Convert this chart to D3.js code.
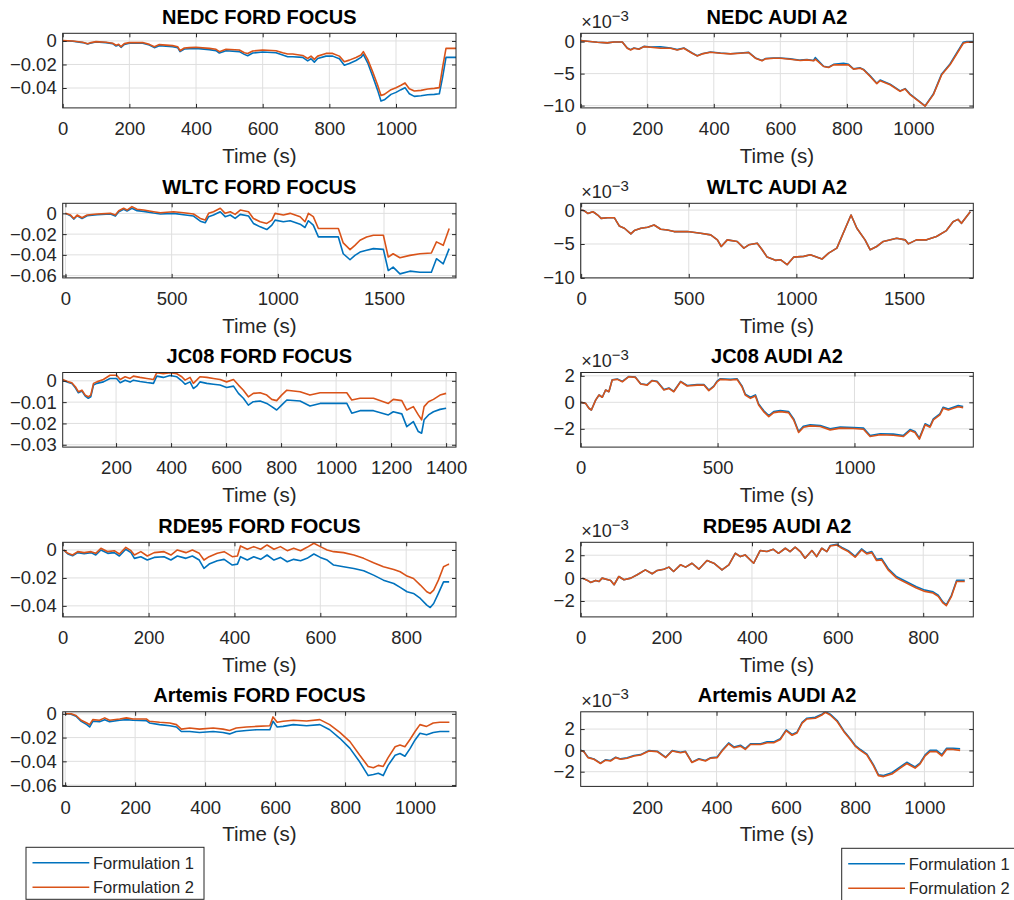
<!DOCTYPE html>
<html><head><meta charset="utf-8">
<script src="https://cdn.jsdelivr.net/npm/d3@7"></script>
<style>
body{margin:0;background:#fff;}
svg{display:block;font-family:"Liberation Sans",Arial,Helvetica,sans-serif;}
</style></head><body>
<svg id="chart" width="1014" height="900"></svg>
<script>
// ---------------- DATA ----------------
const seriesNames = ["Formulation 1", "Formulation 2"];
const xLabel = "Time (s)";

// NEDC FORD FOCUS
const nedcFordT = [0,30,60,75,85,100,130,150,160,168,175,185,200,240,260,275,290,330,345,352,365,380,400,440,460,470,490,530,545,555,570,600,640,660,675,690,720,735,745,755,765,790,810,830,845,860,880,895,902,915,930,945,955,965,985,1000,1015,1027,1040,1055,1075,1095,1115,1130,1140,1150,1180];
const nedcFordF1 = [0,-0.0003,-0.0014,-0.0026,-0.0017,-0.0009,-0.0014,-0.0023,-0.0043,-0.0034,-0.0054,-0.0029,-0.0020,-0.0020,-0.0034,-0.0057,-0.0040,-0.0049,-0.0057,-0.0091,-0.0069,-0.0066,-0.0063,-0.0074,-0.0083,-0.0103,-0.0083,-0.0091,-0.0114,-0.0126,-0.0103,-0.0094,-0.0100,-0.0120,-0.0134,-0.0134,-0.0140,-0.0169,-0.0151,-0.0180,-0.0149,-0.0129,-0.0129,-0.0151,-0.0206,-0.0191,-0.0166,-0.0140,-0.0114,-0.0186,-0.0300,-0.0420,-0.0511,-0.0500,-0.0454,-0.0437,-0.0414,-0.0397,-0.0449,-0.0471,-0.0466,-0.0457,-0.0454,-0.0449,-0.0306,-0.0140,-0.0140];
const nedcFordF2 = [0.0003,0,-0.0011,-0.0023,-0.0014,-0.0006,-0.0011,-0.0020,-0.0037,-0.0029,-0.0049,-0.0023,-0.0014,-0.0014,-0.0029,-0.0049,-0.0031,-0.0040,-0.0049,-0.0083,-0.0060,-0.0057,-0.0054,-0.0063,-0.0071,-0.0091,-0.0071,-0.0077,-0.0100,-0.0106,-0.0086,-0.0077,-0.0083,-0.0100,-0.0111,-0.0111,-0.0123,-0.0149,-0.0129,-0.0157,-0.0129,-0.0106,-0.0106,-0.0129,-0.0177,-0.0163,-0.0140,-0.0120,-0.0091,-0.0157,-0.0263,-0.0377,-0.0463,-0.0454,-0.0414,-0.0397,-0.0377,-0.0357,-0.0406,-0.0426,-0.0420,-0.0409,-0.0403,-0.0397,-0.0220,-0.0063,-0.0063];

// NEDC AUDI A2 (x10^-3)
const nedcAudiT = [0,20,50,80,100,125,140,150,160,175,190,210,240,270,290,310,335,350,365,390,420,450,480,505,525,545,555,580,600,630,660,680,700,705,730,745,760,790,805,820,840,850,870,890,900,930,960,975,990,1035,1060,1085,1110,1150,1160,1180];
const nedcAudiF1 = [0.16,0.05,-0.1,-0.2,-0.05,-0.05,-1.0,-1.25,-1.0,-1.15,-0.75,-0.85,-0.8,-1.0,-1.25,-1.0,-1.78,-2.2,-1.9,-1.62,-1.78,-1.9,-1.78,-1.68,-2.55,-2.95,-2.65,-2.55,-2.55,-2.7,-2.9,-2.8,-2.95,-2.49,-3.85,-4.0,-3.55,-3.37,-3.55,-4.25,-4.1,-4.35,-5.35,-6.5,-6.0,-6.65,-7.7,-7.35,-8.2,-10.05,-8.2,-5.05,-3.5,-0.1,0.0,0.0];
const nedcAudiF2 = [0.16,0.05,-0.1,-0.2,-0.05,-0.05,-1.04,-1.3,-1.04,-1.2,-0.78,-0.88,-1.04,-1.04,-1.3,-1.04,-1.81,-2.23,-1.92,-1.66,-1.81,-1.92,-1.81,-1.71,-2.59,-3.0,-2.69,-2.59,-2.59,-2.75,-2.95,-2.85,-3.0,-2.75,-3.89,-4.04,-3.63,-3.63,-3.63,-4.3,-4.15,-4.4,-5.44,-6.58,-6.11,-6.74,-7.77,-7.41,-8.29,-10.1,-8.29,-5.18,-3.63,-0.26,-0.1,-0.1];

// WLTC FORD FOCUS
const wltcFordT = [0,24,39,55,78,102,149,212,235,251,274,290,313,337,368,415,447,509,556,603,635,658,674,697,729,752,776,799,823,862,885,917,948,972,987,1026,1058,1105,1128,1144,1167,1191,1246,1285,1308,1340,1363,1387,1418,1450,1497,1520,1543,1575,1622,1669,1723,1747,1779,1807];
const wltcFordF1 = [0,-0.0023,-0.0055,-0.0023,-0.0049,-0.0023,-0.0013,-0.0006,-0.0026,0.0016,0.0039,0.0023,0.0049,0.0026,0.0019,0.0003,-0.0006,0,-0.0013,-0.0026,-0.0075,-0.0091,-0.0032,-0.0016,0.0016,-0.0032,-0.0016,-0.0049,-0.001,-0.0026,-0.0097,-0.013,-0.0156,-0.0113,-0.0065,-0.0081,-0.0071,-0.0104,-0.0136,-0.0071,-0.0113,-0.0227,-0.0227,-0.0227,-0.0389,-0.0447,-0.0405,-0.0373,-0.0356,-0.034,-0.0347,-0.0551,-0.0518,-0.0583,-0.0557,-0.0567,-0.0567,-0.0437,-0.0486,-0.034];
const wltcFordF2 = [0,-0.0016,-0.0049,-0.0016,-0.0042,-0.0016,-0.0006,0,-0.0016,0.0026,0.0049,0.0032,0.0065,0.0039,0.0032,0.0016,0.0006,0.0016,0.0006,-0.0006,-0.0049,-0.0065,0,0.0016,0.0049,0,0.0016,-0.001,0.0032,0.0016,-0.0049,-0.0081,-0.0097,-0.0065,0,-0.0016,0,-0.0032,-0.0081,0,-0.0032,-0.0146,-0.0146,-0.0146,-0.0285,-0.035,-0.0308,-0.0259,-0.0227,-0.0211,-0.0211,-0.0421,-0.0389,-0.0428,-0.0405,-0.0389,-0.0382,-0.0275,-0.0308,-0.0146];

// WLTC AUDI A2 (x10^-3)
const wltcAudiT = [0,15,31,54,62,77,93,123,154,177,201,231,247,278,309,339,370,401,432,494,555,602,633,651,679,725,756,779,818,841,864,903,926,957,988,1034,1065,1119,1150,1188,1234,1254,1281,1319,1343,1373,1404,1466,1505,1520,1558,1605,1651,1697,1728,1751,1767,1790,1808];
const wltcAudiF1 = [0,-0.1,-0.49,-0.24,-0.39,-0.73,-1.22,-1.12,-1.12,-2.34,-2.68,-3.51,-3.02,-2.68,-2.54,-2.2,-2.83,-2.93,-3.17,-3.17,-3.41,-3.66,-4.39,-5.37,-4.39,-4.63,-5.61,-5.12,-4.88,-5.85,-6.93,-7.41,-7.32,-8.05,-6.93,-6.83,-6.59,-7.22,-6.34,-5.61,-2.2,-0.73,-2.68,-4.39,-5.85,-5.37,-4.63,-4.15,-4.39,-4.98,-4.39,-4.39,-3.9,-3.02,-1.71,-1.37,-1.95,-0.98,-0.24];
const wltcAudiF2 = [0,-0.1,-0.49,-0.24,-0.39,-0.73,-1.22,-1.12,-1.12,-2.34,-2.68,-3.51,-3.02,-2.68,-2.54,-2.2,-2.83,-2.93,-3.17,-3.17,-3.41,-3.66,-4.39,-5.37,-4.39,-4.63,-5.61,-5.12,-4.88,-5.85,-6.93,-7.41,-7.32,-8.05,-6.93,-6.83,-6.59,-7.22,-6.34,-5.61,-2.2,-0.73,-2.68,-4.39,-5.85,-5.37,-4.63,-4.15,-4.39,-4.98,-4.39,-4.39,-3.9,-3.02,-1.71,-1.37,-1.95,-0.98,-0.24];

// JC08 FORD FOCUS
const jc08FordT = [6,27,39,52,63,76,88,99,108,118,130,154,178,202,215,233,251,263,287,312,336,348,372,396,421,439,451,469,481,493,505,530,554,578,602,627,645,663,681,699,724,748,766,784,802,821,869,905,942,990,1039,1057,1087,1136,1190,1208,1239,1257,1281,1299,1311,1320,1336,1354,1378,1400];
const jc08FordF1 = [0.0003,-0.0008,-0.0012,-0.0033,-0.0056,-0.0048,-0.0072,-0.0082,-0.0075,-0.002,-0.0012,-0.0005,0.0011,0.0011,-0.0009,0.0003,-0.0006,0.0003,-0.0003,-0.0008,-0.0012,0.0022,0.0016,0.0025,0.0019,0,-0.0016,-0.0005,-0.0036,-0.0025,-0.0005,-0.0012,-0.0016,-0.002,-0.0031,-0.0025,-0.0059,-0.0082,-0.0114,-0.0098,-0.0095,-0.0106,-0.0121,-0.0137,-0.0114,-0.009,-0.0095,-0.0118,-0.0106,-0.0106,-0.0106,-0.0152,-0.014,-0.014,-0.016,-0.0145,-0.0155,-0.0215,-0.0191,-0.0238,-0.0246,-0.0183,-0.016,-0.0145,-0.0134,-0.0129];
const jc08FordF2 = [0.0006,-0.0005,-0.0009,-0.0028,-0.0051,-0.0044,-0.0067,-0.0075,-0.0067,-0.0012,-0.0005,0.0006,0.0026,0.0026,0.0006,0.0019,0.0011,0.0022,0.0016,0.0011,0.0006,0.0038,0.0033,0.0038,0.0033,0.0019,0.0003,0.0016,-0.0012,0.0003,0.0019,0.0016,0.0011,0.0006,-0.0005,0.0006,-0.002,-0.0044,-0.0075,-0.0059,-0.0056,-0.0067,-0.0087,-0.0093,-0.0067,-0.0044,-0.0051,-0.0067,-0.0056,-0.0056,-0.0056,-0.009,-0.0082,-0.0082,-0.0106,-0.0087,-0.0093,-0.0137,-0.0121,-0.016,-0.0183,-0.0121,-0.0098,-0.0087,-0.0067,-0.0059];

// JC08 AUDI A2 (x10^-3)
const jc08AudiT = [0,18,30,39,55,67,79,91,103,115,134,152,176,200,219,243,261,279,304,322,340,365,389,425,450,468,486,498,510,547,571,589,601,620,638,650,668,687,705,729,759,778,796,814,838,875,911,948,996,1033,1057,1094,1142,1179,1203,1221,1237,1258,1276,1288,1312,1324,1343,1361,1379,1397];
const jc08AudiF1 = [0,-0.08,-0.45,-0.58,0.18,0.55,0.38,0.93,0.8,1.7,1.76,1.58,1.95,1.9,1.4,1.33,1.65,1.58,0.96,1.08,0.83,1.58,1.27,1.34,1.34,0.92,1.22,1.6,1.78,1.73,1.78,1.24,0.62,0.38,0.56,-0.12,-0.62,-1.0,-0.7,-0.62,-0.7,-1.25,-2.2,-1.8,-1.7,-1.75,-2.0,-1.87,-1.9,-1.95,-2.5,-2.37,-2.4,-2.5,-2.05,-2.2,-2.7,-1.62,-1.8,-1.25,-0.87,-0.37,-0.5,-0.37,-0.25,-0.32];
const jc08AudiF2 = [0,-0.08,-0.45,-0.58,0.18,0.55,0.38,0.93,0.8,1.68,1.73,1.55,1.93,1.88,1.38,1.3,1.63,1.55,0.93,1.05,0.8,1.55,1.23,1.3,1.3,0.88,1.18,1.55,1.73,1.68,1.73,1.18,0.55,0.3,0.48,-0.2,-0.7,-1.08,-0.78,-0.7,-0.78,-1.33,-2.28,-1.88,-1.78,-1.83,-2.08,-1.95,-1.98,-2.03,-2.58,-2.45,-2.48,-2.58,-2.13,-2.28,-2.78,-1.7,-1.88,-1.33,-0.95,-0.45,-0.58,-0.45,-0.33,-0.4];

// RDE95 FORD FOCUS
const rdeFordT = [2,12,23,35,50,66,77,89,105,120,132,147,159,167,182,197,213,236,252,267,287,302,318,329,341,360,376,395,407,414,430,445,461,476,492,507,523,538,554,569,585,600,616,631,654,678,701,724,747,771,786,802,817,833,848,856,864,875,887,898,900];
const rdeFordF1 = [0,-0.0029,-0.0041,-0.0019,-0.0026,-0.0019,-0.0036,0,-0.0024,-0.0019,-0.0043,0.0005,-0.0019,-0.006,-0.0048,-0.0072,-0.0053,-0.0048,-0.0072,-0.0043,-0.006,-0.0043,-0.0072,-0.0132,-0.0101,-0.0077,-0.0067,-0.0108,-0.0101,-0.0048,-0.0072,-0.0048,-0.0067,-0.0036,-0.0072,-0.0053,-0.0084,-0.0067,-0.0077,-0.006,-0.0029,-0.0053,-0.0072,-0.0108,-0.012,-0.0132,-0.0148,-0.018,-0.0216,-0.024,-0.0268,-0.0299,-0.0311,-0.0347,-0.0395,-0.0412,-0.0383,-0.0311,-0.0228,-0.0228,-0.0228];
const rdeFordF2 = [0,-0.0024,-0.0036,-0.0012,-0.0019,-0.0012,-0.0024,0.0012,-0.0012,-0.0005,-0.0029,0.0019,-0.0005,-0.0036,-0.0012,-0.0043,-0.0019,-0.0012,-0.0036,0,-0.0019,0,-0.0024,-0.0072,-0.0048,-0.0024,-0.0012,-0.0048,-0.0043,0.0029,0.0005,0.0024,0.0005,0.0036,0.0005,0.0024,-0.0005,0.0012,-0.0005,0.0019,0.0048,0.0024,0,-0.0012,-0.0019,-0.0036,-0.006,-0.0091,-0.012,-0.0139,-0.0156,-0.0187,-0.0204,-0.0251,-0.0299,-0.0311,-0.0287,-0.0216,-0.012,-0.0103,-0.0103];

// RDE95 AUDI A2 (x10^-3)
const rdeAudiT = [4,16,23,35,43,50,70,78,89,101,117,132,151,167,179,194,206,217,233,245,260,276,295,311,330,346,361,373,384,404,419,435,450,462,478,489,501,513,524,540,551,563,575,583,598,610,625,641,656,668,680,691,703,718,738,761,784,804,823,835,846,854,866,878,897];
const rdeAudiF1 = [0,-0.2,-0.38,-0.2,-0.29,0,-0.2,-0.58,0.14,-0.14,0,0.29,0.72,0.38,0.67,0.78,0.96,0.58,1.16,0.96,1.3,0.78,1.54,1.3,0.72,1.16,2.17,1.88,2.03,1.3,2.41,2.32,2.52,2.17,2.61,2.32,2.7,2.32,1.74,2.41,1.88,2.61,2.32,2.85,2.95,2.68,2.4,1.9,2.55,2.2,2.32,1.64,1.7,0.84,0.12,-0.32,-0.76,-1.05,-1.2,-1.5,-2.08,-2.33,-1.5,-0.2,-0.2];
const rdeAudiF2 = [0,-0.2,-0.38,-0.2,-0.29,0,-0.2,-0.58,0.14,-0.14,0,0.29,0.72,0.38,0.67,0.78,0.96,0.58,1.16,0.96,1.3,0.78,1.54,1.3,0.72,1.16,2.17,1.88,2.03,1.3,2.41,2.32,2.52,2.17,2.61,2.32,2.7,2.32,1.74,2.41,1.88,2.61,2.32,2.81,2.9,2.61,2.32,1.83,2.46,2.12,2.23,1.54,1.59,0.72,0,-0.43,-0.87,-1.16,-1.3,-1.59,-2.17,-2.41,-1.59,-0.29,-0.29];

// Artemis FORD FOCUS
const artFordT = [0,17,31,46,62,70,79,98,113,127,156,175,194,232,241,270,299,318,332,356,384,423,451,470,489,518,547,585,594,606,623,652,690,728,756,785,814,842,866,881,895,909,923,943,957,971,986,1000,1014,1033,1052,1071,1098];
const artFordF1 = [0,-0.0003,-0.002,-0.0063,-0.0091,-0.0111,-0.0063,-0.0066,-0.0049,-0.0066,-0.0054,-0.0049,-0.0054,-0.0057,-0.0077,-0.0091,-0.01,-0.0111,-0.0149,-0.0149,-0.0157,-0.0149,-0.0157,-0.0169,-0.0149,-0.014,-0.0134,-0.0134,-0.0063,-0.0111,-0.0106,-0.0091,-0.01,-0.0091,-0.0134,-0.0206,-0.0291,-0.0406,-0.052,-0.0511,-0.05,-0.052,-0.0434,-0.0349,-0.0334,-0.0357,-0.0291,-0.022,-0.0163,-0.0177,-0.0157,-0.0149,-0.0149];
const artFordF2 = [0,0,-0.0014,-0.0054,-0.0077,-0.0091,-0.0049,-0.0054,-0.0034,-0.0054,-0.0043,-0.0034,-0.0043,-0.0043,-0.0063,-0.0071,-0.0077,-0.0091,-0.0129,-0.012,-0.0129,-0.012,-0.0129,-0.014,-0.012,-0.0111,-0.0106,-0.01,-0.0026,-0.0071,-0.0063,-0.0054,-0.006,-0.0049,-0.0091,-0.0157,-0.0234,-0.0349,-0.0443,-0.0454,-0.0434,-0.0443,-0.0369,-0.0277,-0.0263,-0.0277,-0.0214,-0.0149,-0.0091,-0.0106,-0.0077,-0.0071,-0.0071];

// Artemis AUDI A2 (x10^-3)
const artAudiT = [8,17,29,46,65,80,94,109,123,142,162,181,205,229,253,272,296,310,329,349,368,382,402,416,435,450,469,483,498,527,546,565,584,601,618,632,647,661,685,704,714,728,748,767,786,800,815,834,853,867,882,906,930,949,973,987,1002,1016,1035,1050,1064,1083,1103];
const artAudiF1 = [0,-0.1,-0.64,-0.8,-1.2,-0.88,-0.95,-0.64,-0.8,-0.7,-0.48,-0.4,-0.02,-0.08,-0.64,-0.02,-0.18,-0.08,-1.1,-0.78,-0.95,-0.7,-0.62,0.0,0.7,0.32,0.48,0.16,0.62,0.62,0.8,0.8,1.1,1.92,1.5,1.7,2.62,3.02,3.1,3.4,3.62,3.4,2.8,1.85,1.1,0.48,0.08,-0.35,-1.36,-2.28,-2.36,-2.1,-1.55,-1.12,-1.55,-1.2,-0.42,0.0,0.0,-0.4,0.2,0.2,0.15];
const artAudiF2 = [0,-0.12,-0.68,-0.83,-1.23,-0.92,-1.0,-0.68,-0.83,-0.74,-0.52,-0.43,-0.06,-0.12,-0.68,-0.06,-0.22,-0.12,-1.14,-0.83,-1.0,-0.74,-0.68,-0.06,0.62,0.25,0.4,0.09,0.55,0.55,0.71,0.71,1.02,1.85,1.42,1.63,2.55,2.95,3.02,3.32,3.57,3.32,2.71,1.78,1.02,0.4,0,-0.43,-1.45,-2.37,-2.46,-2.22,-1.66,-1.23,-1.66,-1.29,-0.52,-0.12,-0.12,-0.52,0.09,0.09,0];

// Tick values
const fordTicks02 = [0,-0.02,-0.04];
const fordTicks02b = [0,-0.02,-0.04,-0.06];
const fordTicks01 = [0,-0.01,-0.02,-0.03];
const audiTicks5 = [0,-5,-10];
const audiTicks2 = [2,0,-2];
const xTicks200to1000 = [0,200,400,600,800,1000];
const xTicks500 = [0,500,1000,1500];
const xTicksJC08 = [200,400,600,800,1000,1200,1400];
const xTicksJC08b = [0,500,1000];
const xTicksRDE = [0,200,400,600,800];
const xTicksArtAudi = [200,400,600,800,1000];

// ---------------- PANELS ----------------
const panels = [
  {title:"NEDC FORD FOCUS", t:nedcFordT, f1:nedcFordF1, f2:nedcFordF2, xd:[0,1180], yd:[-0.0569,0.0065], xt:xTicks200to1000, yt:fordTicks02, exp:false},
  {title:"NEDC AUDI A2", t:nedcAudiT, f1:nedcAudiF1, f2:nedcAudiF2, xd:[0,1180], yd:[-10.36,1.3], xt:xTicks200to1000, yt:audiTicks5, exp:true},
  {title:"WLTC FORD FOCUS", t:wltcFordT, f1:wltcFordF1, f2:wltcFordF2, xd:[-13,1839], yd:[-0.0622,0.0097], xt:xTicks500, yt:fordTicks02b, exp:false},
  {title:"WLTC AUDI A2", t:wltcAudiT, f1:wltcAudiF1, f2:wltcAudiF2, xd:[-2,1822], yd:[-10,1], xt:xTicks500, yt:audiTicks5, exp:true},
  {title:"JC08 FORD FOCUS", t:jc08FordT, f1:jc08FordF1, f2:jc08FordF2, xd:[6,1436], yd:[-0.0311,0.0039], xt:xTicksJC08, yt:fordTicks01, exp:false},
  {title:"JC08 AUDI A2", t:jc08AudiT, f1:jc08AudiF1, f2:jc08AudiF2, xd:[0,1434], yd:[-3.38,2.25], xt:xTicksJC08b, yt:audiTicks2, exp:true},
  {title:"RDE95 FORD FOCUS", t:rdeFordT, f1:rdeFordF1, f2:rdeFordF2, xd:[0,916], yd:[-0.0479,0.0055], xt:xTicksRDE, yt:fordTicks02, exp:false},
  {title:"RDE95 AUDI A2", t:rdeAudiT, f1:rdeAudiF1, f2:rdeAudiF2, xd:[0,917], yd:[-3.39,3.13], xt:xTicksRDE, yt:audiTicks2, exp:true},
  {title:"Artemis FORD FOCUS", t:artFordT, f1:artFordF1, f2:artFordF2, xd:[-7,1117], yd:[-0.0611,0.0017], xt:xTicks200to1000, yt:fordTicks02b, exp:false},
  {title:"Artemis AUDI A2", t:artAudiT, f1:artAudiF1, f2:artAudiF2, xd:[8,1141], yd:[-3.38,3.62], xt:xTicksArtAudi, yt:audiTicks2, exp:true}
];

// ---------------- LAYOUT / STYLE ----------------
const colors = ["#0072BD", "#D95319"];
const axisColor = "#262626";
const gridColor = "#dfdfdf";
const colX = [[62.7, 456], [580.7, 973.3]];
const rowTop = [33.3, 203.3, 372.5, 542.3, 711.8];
const plotH = 74.6;
const tickLen = 4;

const svg = d3.select("#chart");
const defs = svg.append("defs");
const minus = s => s.replace(/-/g, "\u2212");
const fmtFord = d => d === 0 ? "0" : minus(d3.format(".2f")(d));
const fmtAudi = d => minus(String(d));

panels.forEach((p, i) => {
  const row = Math.floor(i / 2), col = i % 2;
  const x0 = colX[col][0], x1 = colX[col][1];
  const y0 = rowTop[row], y1 = y0 + plotH;
  const xs = d3.scaleLinear().domain(p.xd).range([x0, x1]);
  const ys = d3.scaleLinear().domain(p.yd).range([y1, y0]);
  const g = svg.append("g");

  // grid
  g.selectAll(".gx").data(p.xt).join("line")
    .attr("x1", d => xs(d)).attr("x2", d => xs(d)).attr("y1", y0).attr("y2", y1)
    .attr("stroke", gridColor).attr("stroke-width", 1);
  g.selectAll(".gy").data(p.yt).join("line")
    .attr("x1", x0).attr("x2", x1).attr("y1", d => ys(d)).attr("y2", d => ys(d))
    .attr("stroke", gridColor).attr("stroke-width", 1);

  // clip
  const cid = "clip" + i;
  defs.append("clipPath").attr("id", cid).append("rect")
    .attr("x", x0).attr("y", y0).attr("width", x1 - x0).attr("height", plotH);

  const line = d3.line().x(d => xs(d[0])).y(d => ys(d[1]));
  [p.f1, p.f2].forEach((vals, k) => {
    const pts = p.t.map((t, j) => [t, vals[j]]).filter(d => d[1] !== undefined);
    g.append("path").datum(pts)
      .attr("clip-path", `url(#${cid})`)
      .attr("d", line).attr("fill", "none")
      .attr("stroke", colors[k]).attr("stroke-width", 1.6)
      .attr("stroke-linejoin", "round");
  });

  // axes via d3 axis generators (inward ticks)
  const fmtY = p.exp ? fmtAudi : fmtFord;
  const styleAxis = (sel) => {
    sel.select(".domain").remove();
    sel.selectAll(".tick line").attr("stroke", axisColor);
    sel.selectAll(".tick text").attr("fill", axisColor).attr("font-size", "18.5px")
      .attr("font-family", '"Liberation Sans", Arial, Helvetica, sans-serif');
  };
  const xb = g.append("g").attr("transform", `translate(0,${y1})`)
    .call(d3.axisBottom(xs).tickValues(p.xt).tickSizeInner(-tickLen).tickSizeOuter(0).tickPadding(13).tickFormat(d => d3.format("d")(d)));
  styleAxis(xb);
  xb.selectAll(".tick text").attr("dy", "0.71em").attr("y", 14);
  const xt = g.append("g").attr("transform", `translate(0,${y0})`)
    .call(d3.axisTop(xs).tickValues(p.xt).tickSizeInner(-tickLen).tickSizeOuter(0).tickFormat(""));
  styleAxis(xt);
  const yl = g.append("g").attr("transform", `translate(${x0},0)`)
    .call(d3.axisLeft(ys).tickValues(p.yt).tickSizeInner(-tickLen).tickSizeOuter(0).tickPadding(6 + tickLen).tickFormat(fmtY));
  styleAxis(yl);
  yl.selectAll(".tick text").attr("x", -6);
  const yr = g.append("g").attr("transform", `translate(${x1},0)`)
    .call(d3.axisRight(ys).tickValues(p.yt).tickSizeInner(-tickLen).tickSizeOuter(0).tickFormat(""));
  styleAxis(yr);

  // box
  g.append("rect").attr("x", x0).attr("y", y0).attr("width", x1 - x0).attr("height", plotH)
    .attr("fill", "none").attr("stroke", axisColor).attr("stroke-width", 1);

  // title
  g.append("text").attr("x", (x0 + x1) / 2).attr("y", y0 - 9.5)
    .attr("text-anchor", "middle").attr("font-size", "20px").attr("font-weight", "bold")
    .attr("fill", "#000").text(p.title);

  // x label
  g.append("text").attr("x", (x0 + x1) / 2).attr("y", y1 + 55)
    .attr("text-anchor", "middle").attr("font-size", "20.5px").attr("fill", axisColor).text(xLabel);

  // exponent
  if (p.exp) {
    const et = g.append("text").attr("x", x0 + 0.5).attr("y", y0 - 5.3)
      .attr("fill", axisColor);
    et.append("tspan").attr("font-size", "18px").text("\u00D710");
    et.append("tspan").attr("dy", -7.5).attr("font-size", "15px").text("\u22123");
  }
});

// ---------------- LEGENDS ----------------
function legend(x, y, w, h) {
  const lg = svg.append("g");
  lg.append("rect").attr("x", x).attr("y", y).attr("width", w).attr("height", h)
    .attr("fill", "#fff").attr("stroke", axisColor).attr("stroke-width", 1);
  seriesNames.forEach((name, k) => {
    const ly = y + 15.4 + k * 24.6;
    lg.append("line").attr("x1", x + 6.5).attr("x2", x + 63.3).attr("y1", ly).attr("y2", ly)
      .attr("stroke", colors[k]).attr("stroke-width", 1.5);
    lg.append("text").attr("x", x + 67).attr("y", ly + 5.8)
      .attr("font-size", "16.5px").attr("fill", axisColor).text(name);
  });
}
legend(26, 847.3, 178, 52);
legend(841.7, 848.3, 200, 60);
</script>
</body></html>
